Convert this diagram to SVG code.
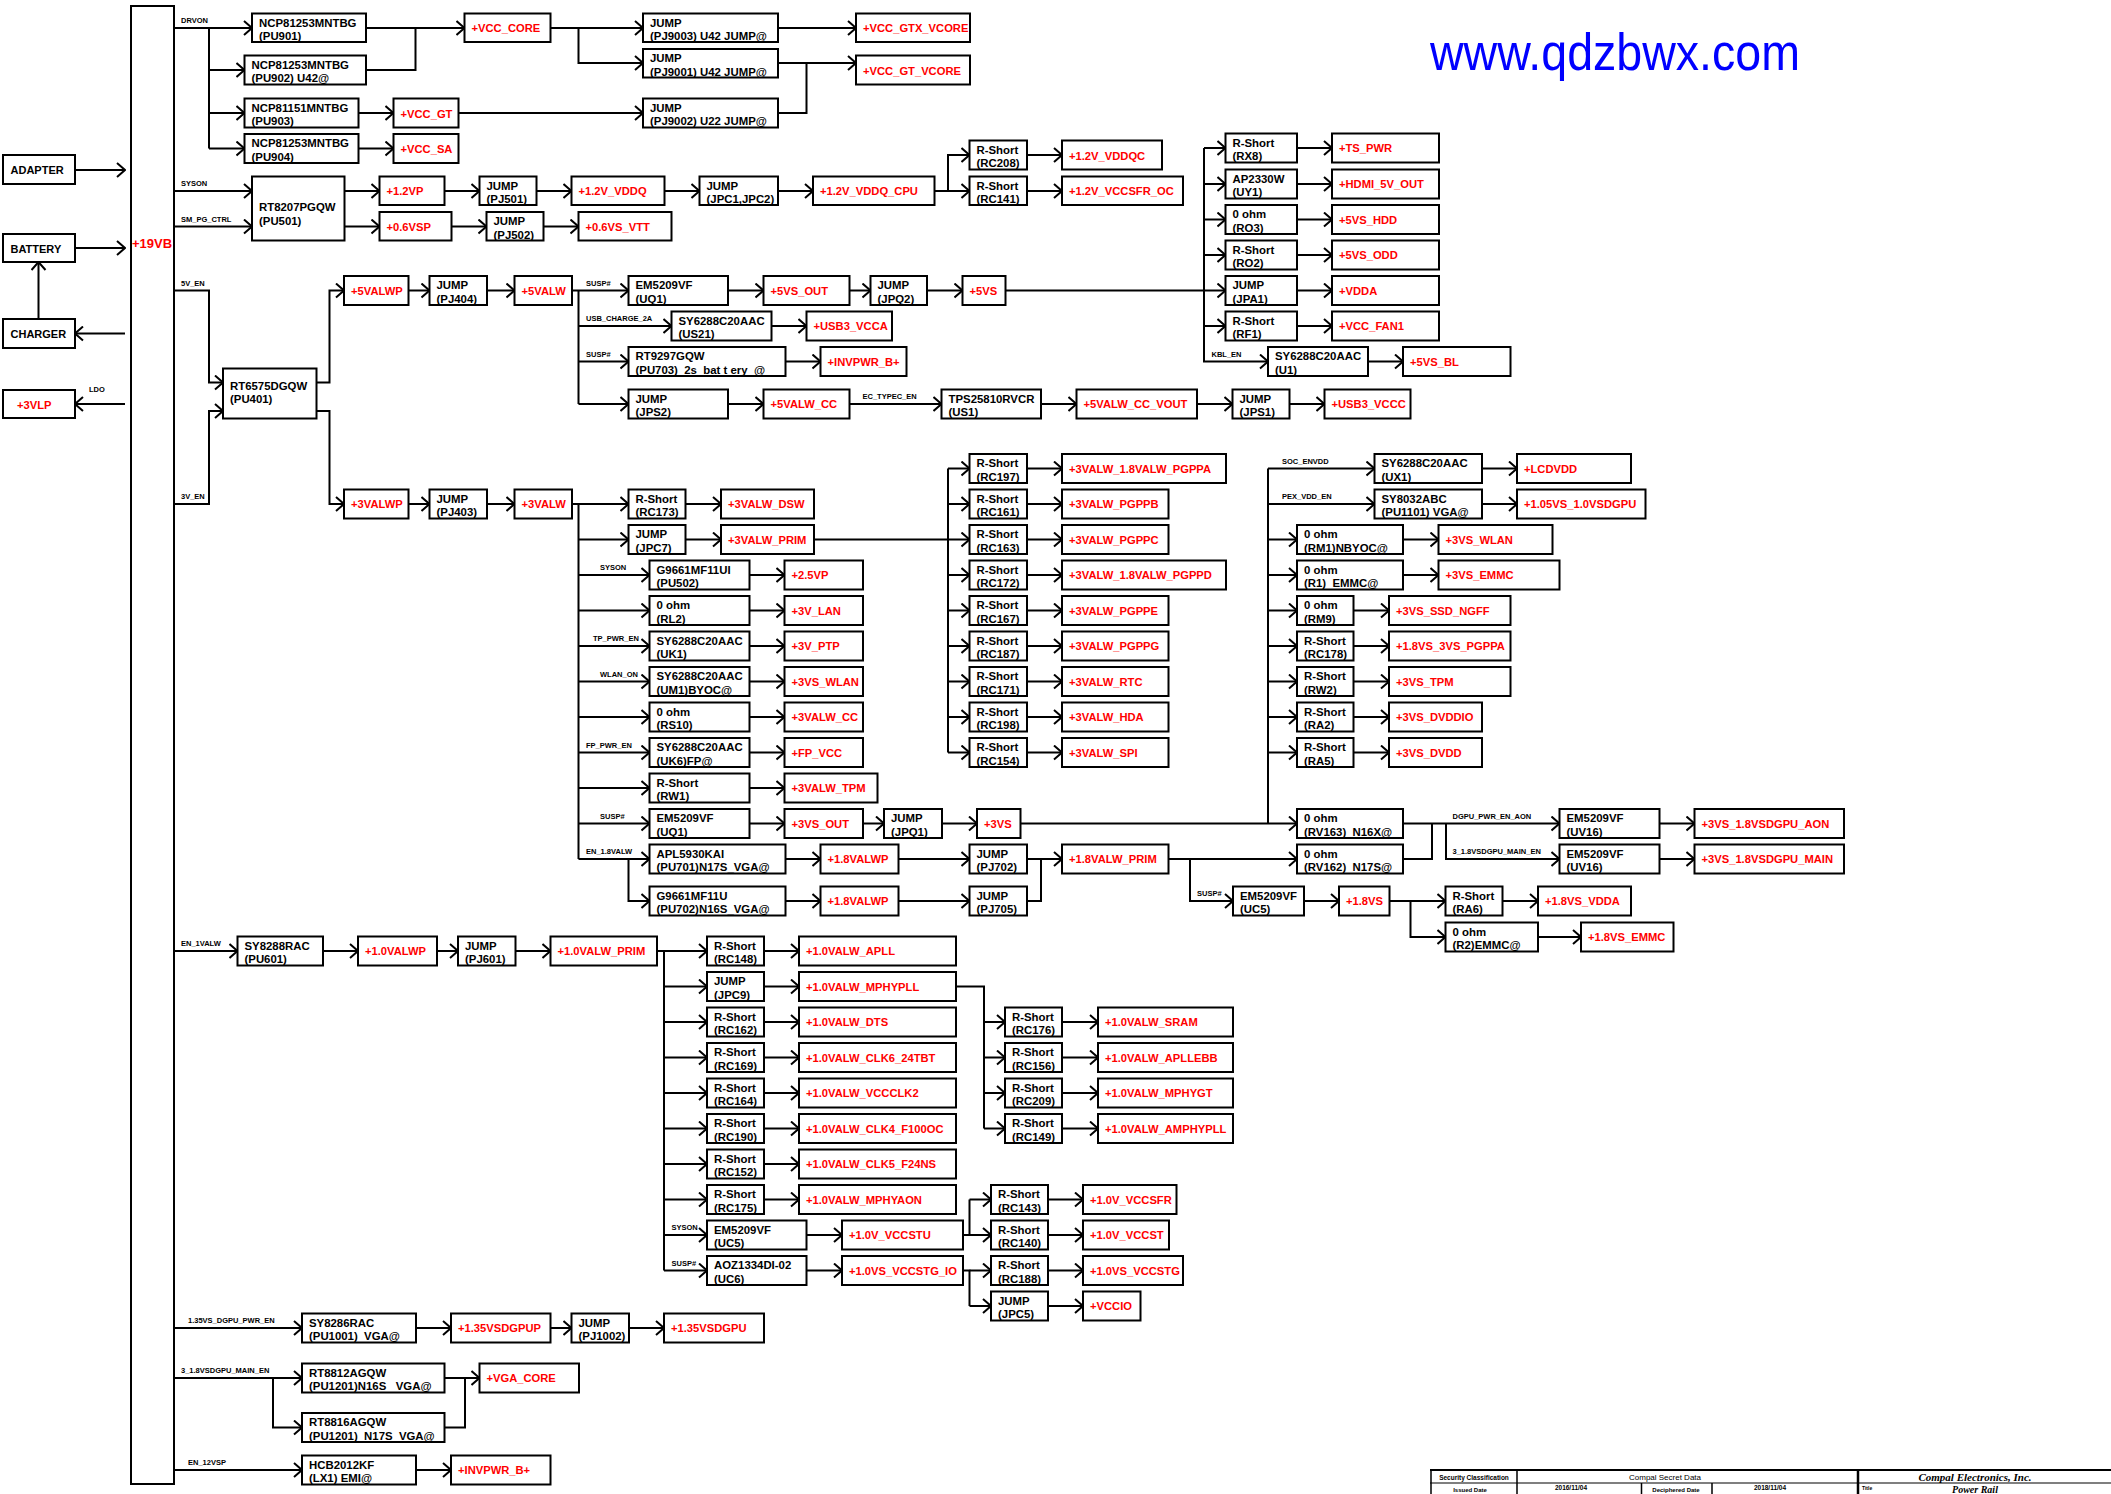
<svg xmlns="http://www.w3.org/2000/svg" width="2111" height="1494" viewBox="0 0 2111 1494">
<style>
.b{fill:#fff;stroke:#000;stroke-width:2}
.k{font-family:"Liberation Sans",Arial,sans-serif;font-weight:bold;font-size:11.4px;fill:#000;white-space:pre}
.r{font-family:"Liberation Sans",Arial,sans-serif;font-weight:bold;font-size:11.2px;fill:#f00;white-space:pre}
.l{font-family:"Liberation Sans",Arial,sans-serif;font-weight:bold;font-size:7.5px;fill:#000;white-space:pre}
.c path{fill:none;stroke:#000;stroke-width:2}
.c path.a{marker-end:url(#ar)}
.tb{fill:none;stroke:#000}
.tt{font-family:"Liberation Sans",Arial,sans-serif;fill:#000}
</style>
<defs>
<marker id="ar" viewBox="0 0 10 16" refX="9" refY="8" markerWidth="10" markerHeight="16" markerUnits="userSpaceOnUse" orient="auto"><path d="M1,1 L9,8 L1,15" fill="none" stroke="#000" stroke-width="2"/></marker>
</defs>
<rect width="2111" height="1494" fill="#fff"/>
<text x="1430" y="70" font-family="Liberation Sans,Arial,sans-serif" font-size="52" fill="#0000ff" textLength="370" lengthAdjust="spacingAndGlyphs">www.qdzbwx.com</text>

<g class="c" id="connectors">
<path class="a" d="M75,170H125"/><path class="a" d="M75,248H125"/><path class="a" d="M125,333.5H75"/><path class="a" d="M38.5,319V262"/><path class="a" d="M125,404H75"/>
<path class="a" d="M174,28H252"/><path d="M209,28V148.5"/><path class="a" d="M209,70H244.5"/><path class="a" d="M209,113H244.5"/><path class="a" d="M209,148.5H244.5"/>
<path class="a" d="M366,28H464.5"/><path d="M366,70H415.5V28"/><path class="a" d="M358.5,113H393.5"/><path class="a" d="M358.5,148.5H393.5"/>
<path class="a" d="M550.5,28H643"/><path class="a" d="M578.5,28V63H643"/><path class="a" d="M458.5,113H643"/>
<path class="a" d="M778,28H856"/><path class="a" d="M778,63H856"/><path d="M778,113H806.5V63"/>
<path class="a" d="M174,191H252"/><path class="a" d="M174,226.5H252"/><path class="a" d="M344.5,191H379.5"/><path class="a" d="M344.5,226.5H379.5"/>
<path class="a" d="M444.5,191H479.5"/><path class="a" d="M451.5,226.5H486.5"/><path class="a" d="M536.5,191H571.5"/><path class="a" d="M543.5,226.5H578.5"/>
<path class="a" d="M664.5,191H699.5"/><path class="a" d="M778,191H813"/><path class="a" d="M934.5,191H969.5"/><path class="a" d="M948,191V155H969.5"/>
<path class="a" d="M1027,155H1062"/><path class="a" d="M1027,191H1062"/>
<path class="a" d="M174,290.5H209V382.5H223"/><path class="a" d="M174,504H209V411H223"/>
<path class="a" d="M316.5,382.5H329.5V290.5H344"/><path class="a" d="M316.5,411H329.5V504H344"/>
<path class="a" d="M408.5,290.5H429.5"/><path class="a" d="M487,290.5H514.5"/><path class="a" d="M572,290.5H628.5"/><path d="M578.5,290.5V404"/>
<path class="a" d="M578.5,326H671.5"/><path class="a" d="M578.5,361.5H628.5"/><path class="a" d="M578.5,404H628.5"/>
<path class="a" d="M728,290.5H763.5"/><path class="a" d="M849.5,290.5H870.5"/><path class="a" d="M927,290.5H962.5"/><path class="a" d="M1005.5,290.5H1225.5"/>
<path class="a" d="M1204,148V361.5H1268"/><path class="a" d="M1204,148H1225.5"/><path class="a" d="M1204,184H1225.5"/><path class="a" d="M1204,219.5H1225.5"/><path class="a" d="M1204,255H1225.5"/><path class="a" d="M1204,326H1225.5"/>
<path class="a" d="M1297,148H1332"/><path class="a" d="M1297,184H1332"/><path class="a" d="M1297,219.5H1332"/><path class="a" d="M1297,255H1332"/><path class="a" d="M1297,290.5H1332"/><path class="a" d="M1297,326H1332"/>
<path class="a" d="M1368,361.5H1403"/><path class="a" d="M771.5,326H806.5"/><path class="a" d="M785.5,361.5H820.5"/>
<path class="a" d="M728,404H763.5"/><path class="a" d="M849.5,404H941.5"/><path class="a" d="M1041,404H1076.5"/><path class="a" d="M1197,404H1232.5"/><path class="a" d="M1289.5,404H1324.5"/>
<path class="a" d="M408.5,504H429.5"/><path class="a" d="M487,504H514.5"/><path class="a" d="M572,504H628.5"/><path d="M578.5,504V859"/>
<path class="a" d="M578.5,539.5H628.5"/><path class="a" d="M578.5,575H649.5"/><path class="a" d="M578.5,610.5H649.5"/><path class="a" d="M578.5,646H649.5"/><path class="a" d="M578.5,681.5H649.5"/><path class="a" d="M578.5,717H649.5"/><path class="a" d="M578.5,752.5H649.5"/><path class="a" d="M578.5,788H649.5"/><path class="a" d="M578.5,823.5H649.5"/><path class="a" d="M578.5,859H649.5"/>
<path class="a" d="M628.5,859V901H649.5"/>
<path class="a" d="M685.5,504H721"/><path class="a" d="M685.5,539.5H721"/>
<path class="a" d="M749.5,575H784.5"/><path class="a" d="M749.5,610.5H784.5"/><path class="a" d="M749.5,646H784.5"/><path class="a" d="M749.5,681.5H784.5"/><path class="a" d="M749.5,717H784.5"/><path class="a" d="M749.5,752.5H784.5"/><path class="a" d="M749.5,788H784.5"/><path class="a" d="M749.5,823.5H784.5"/>
<path class="a" d="M863,823.5H884"/><path class="a" d="M942,823.5H977"/><path class="a" d="M1020.5,823.5H1297"/>
<path class="a" d="M785.5,859H820.5"/><path class="a" d="M785.5,901H820.5"/><path class="a" d="M898.5,859H969.5"/><path class="a" d="M898.5,901H969.5"/>
<path class="a" d="M1027,859H1062"/><path d="M1027,901H1041V859"/>
<path class="a" d="M814,539.5H969.5"/><path d="M948,468.5V752.5"/>
<path class="a" d="M948,468.5H969.5"/><path class="a" d="M948,504H969.5"/><path class="a" d="M948,575H969.5"/><path class="a" d="M948,610.5H969.5"/><path class="a" d="M948,646H969.5"/><path class="a" d="M948,681.5H969.5"/><path class="a" d="M948,717H969.5"/><path class="a" d="M948,752.5H969.5"/>
<path class="a" d="M1027,468.5H1062"/><path class="a" d="M1027,504H1062"/><path class="a" d="M1027,539.5H1062"/><path class="a" d="M1027,575H1062"/><path class="a" d="M1027,610.5H1062"/><path class="a" d="M1027,646H1062"/><path class="a" d="M1027,681.5H1062"/><path class="a" d="M1027,717H1062"/><path class="a" d="M1027,752.5H1062"/>
<path d="M1268,468.5V823.5"/><path class="a" d="M1268,468.5H1374.5"/><path class="a" d="M1268,504H1374.5"/>
<path class="a" d="M1268,539.5H1297"/><path class="a" d="M1268,575H1297"/><path class="a" d="M1268,610.5H1297"/><path class="a" d="M1268,646H1297"/><path class="a" d="M1268,681.5H1297"/><path class="a" d="M1268,717H1297"/><path class="a" d="M1268,752.5H1297"/>
<path class="a" d="M1482,468.5H1517"/><path class="a" d="M1482,504H1517"/><path class="a" d="M1403,539.5H1438.5"/><path class="a" d="M1403,575H1438.5"/>
<path class="a" d="M1353.5,610.5H1389"/><path class="a" d="M1353.5,646H1389"/><path class="a" d="M1353.5,681.5H1389"/><path class="a" d="M1353.5,717H1389"/><path class="a" d="M1353.5,752.5H1389"/>
<path class="a" d="M1168.5,859H1297"/><path class="a" d="M1190,859V901H1233"/>
<path class="a" d="M1403,823.5H1559.5"/><path d="M1403,859H1432V823.5"/><path class="a" d="M1446,823.5V859H1559.5"/>
<path class="a" d="M1659.5,823.5H1694.5"/><path class="a" d="M1659.5,859H1694.5"/>
<path class="a" d="M1304,901H1339"/><path class="a" d="M1389.5,901H1445.5"/><path class="a" d="M1410.5,901V937H1445.5"/><path class="a" d="M1502.5,901H1538"/><path class="a" d="M1538,937H1581"/>
<path class="a" d="M174,951H237.5"/><path class="a" d="M323,951H358"/><path class="a" d="M437,951H458"/><path class="a" d="M515.5,951H550.5"/><path class="a" d="M657,951H707"/><path d="M664,951V1270.5"/>
<path class="a" d="M664,986.5H707"/><path class="a" d="M664,1022H707"/><path class="a" d="M664,1057.5H707"/><path class="a" d="M664,1093H707"/><path class="a" d="M664,1128.5H707"/><path class="a" d="M664,1164H707"/><path class="a" d="M664,1199.5H707"/><path class="a" d="M664,1235H707"/><path class="a" d="M664,1270.5H707"/>
<path class="a" d="M764,951H799"/><path class="a" d="M764,986.5H799"/><path class="a" d="M764,1022H799"/><path class="a" d="M764,1057.5H799"/><path class="a" d="M764,1093H799"/><path class="a" d="M764,1128.5H799"/><path class="a" d="M764,1164H799"/><path class="a" d="M764,1199.5H799"/>
<path class="a" d="M806.5,1235H842"/><path class="a" d="M806.5,1270.5H842"/>
<path d="M956,986.5H984V1128.5"/><path class="a" d="M984,1022H1005"/><path class="a" d="M984,1057.5H1005"/><path class="a" d="M984,1093H1005"/><path class="a" d="M984,1128.5H1005"/>
<path class="a" d="M1062,1022H1098"/><path class="a" d="M1062,1057.5H1098"/><path class="a" d="M1062,1093H1098"/><path class="a" d="M1062,1128.5H1098"/>
<path d="M963,1235H969.5V1199.5"/><path class="a" d="M969.5,1199.5H991"/><path class="a" d="M969.5,1235H991"/>
<path d="M963,1270.5H969.5V1306"/><path class="a" d="M969.5,1270.5H991"/><path class="a" d="M969.5,1306H991"/>
<path class="a" d="M1048,1199.5H1083"/><path class="a" d="M1048,1235H1083"/><path class="a" d="M1048,1270.5H1083"/><path class="a" d="M1048,1306H1083"/>
<path class="a" d="M174,1328H302"/><path class="a" d="M416,1328H451"/><path class="a" d="M550.5,1328H571.5"/><path class="a" d="M629,1328H664"/>
<path class="a" d="M174,1378H302"/><path class="a" d="M273,1378V1427.5H302"/><path class="a" d="M444.5,1378H479.5"/><path d="M444.5,1427.5H465V1378"/>
<path class="a" d="M174,1470H302"/><path class="a" d="M416,1470H451"/>
</g>

<g id="labels">
<text class="l" x="181" y="23">DRVON</text><text class="l" x="181" y="186">SYSON</text><text class="l" x="181" y="221.5">SM_PG_CTRL</text>
<text class="l" x="181" y="285.5">5V_EN</text><text class="l" x="181" y="499">3V_EN</text><text class="l" x="89" y="392">LDO</text>
<text class="l" x="586" y="285.5">SUSP#</text><text class="l" x="586" y="321">USB_CHARGE_2A</text><text class="l" x="586" y="356.5">SUSP#</text>
<text class="l" x="862.5" y="399">EC_TYPEC_EN</text><text class="l" x="1211.5" y="356.5">KBL_EN</text>
<text class="l" x="600" y="570">SYSON</text><text class="l" x="593" y="641">TP_PWR_EN</text><text class="l" x="600" y="676.5">WLAN_ON</text>
<text class="l" x="586" y="747.5">FP_PWR_EN</text><text class="l" x="600" y="818.5">SUSP#</text><text class="l" x="586" y="854">EN_1.8VALW</text>
<text class="l" x="1282" y="463.5">SOC_ENVDD</text><text class="l" x="1282" y="499">PEX_VDD_EN</text>
<text class="l" x="1452.5" y="818.5">DGPU_PWR_EN_AON</text><text class="l" x="1452.5" y="854">3_1.8VSDGPU_MAIN_EN</text>
<text class="l" x="1197" y="896">SUSP#</text><text class="l" x="181" y="946">EN_1VALW</text>
<text class="l" x="671.5" y="1230">SYSON</text><text class="l" x="671.5" y="1265.5">SUSP#</text>
<text class="l" x="188" y="1323">1.35VS_DGPU_PWR_EN</text><text class="l" x="181" y="1372.5">3_1.8VSDGPU_MAIN_EN</text><text class="l" x="188" y="1465">EN_12VSP</text>
</g>

<g id="bus19VB"><rect class="b" x="131" y="6" width="43" height="1478"/><text class="r" x="132" y="248" style="font-size:13px">+19VB</text></g>
<g id="ADAPTER"><rect class="b" x="3" y="155" width="72" height="29"/><text class="k" x="10.5" y="174" style="font-size:11px">ADAPTER</text></g>
<g id="BATTERY"><rect class="b" x="3" y="234" width="72" height="28"/><text class="k" x="10.5" y="252.5" style="font-size:11px">BATTERY</text></g>
<g id="CHARGER"><rect class="b" x="3" y="319" width="72" height="29"/><text class="k" x="10.5" y="338" style="font-size:11px">CHARGER</text></g>
<g id="P3VLP"><rect class="b" x="3" y="390" width="72" height="28"/><text class="r" x="17" y="408.5">+3VLP</text></g>

<g id="PU901"><rect class="b" x="252" y="13.5" width="114" height="28.5"/><text class="k" x="259" y="26.5">NCP81253MNTBG</text><text class="k" x="259" y="40">(PU901)</text></g>
<g id="PU902"><rect class="b" x="244.5" y="55.5" width="121.5" height="29"/><text class="k" x="251.5" y="68.5">NCP81253MNTBG</text><text class="k" x="251.5" y="82">(PU902) U42@</text></g>
<g id="PU903"><rect class="b" x="244.5" y="98.5" width="114" height="29"/><text class="k" x="251.5" y="111.5">NCP81151MNTBG</text><text class="k" x="251.5" y="125">(PU903)</text></g>
<g id="PU904"><rect class="b" x="244.5" y="134" width="114" height="29"/><text class="k" x="251.5" y="147">NCP81253MNTBG</text><text class="k" x="251.5" y="160.5">(PU904)</text></g>
<g id="VCC_CORE"><rect class="b" x="464.5" y="13.5" width="86" height="28.5"/><text class="r" x="471.5" y="32">+VCC_CORE</text></g>
<g id="VCC_GT"><rect class="b" x="393.5" y="98.5" width="65" height="29"/><text class="r" x="400.5" y="117.5">+VCC_GT</text></g>
<g id="VCC_SA"><rect class="b" x="393.5" y="134" width="65" height="29"/><text class="r" x="400.5" y="152.5">+VCC_SA</text></g>
<g id="PJ9003"><rect class="b" x="643" y="13.5" width="135" height="28.5"/><text class="k" x="650" y="26.5">JUMP</text><text class="k" x="650" y="40">(PJ9003) U42 JUMP@</text></g>
<g id="PJ9001"><rect class="b" x="643" y="49" width="135" height="28.5"/><text class="k" x="650" y="62">JUMP</text><text class="k" x="650" y="75.5">(PJ9001) U42 JUMP@</text></g>
<g id="PJ9002"><rect class="b" x="643" y="98.5" width="135" height="29"/><text class="k" x="650" y="111.5">JUMP</text><text class="k" x="650" y="125">(PJ9002) U22 JUMP@</text></g>
<g id="VCC_GTX_VCORE"><rect class="b" x="856" y="13.5" width="114" height="28.5"/><text class="r" x="863" y="32">+VCC_GTX_VCORE</text></g>
<g id="VCC_GT_VCORE"><rect class="b" x="856" y="55.5" width="114" height="29"/><text class="r" x="863" y="74.5">+VCC_GT_VCORE</text></g>

<g id="PU501"><rect class="b" x="252" y="176.5" width="92.5" height="64"/><text class="k" x="259" y="211">RT8207PGQW</text><text class="k" x="259" y="225">(PU501)</text></g>
<g id="P1_2VP"><rect class="b" x="379.5" y="176.5" width="65" height="28.5"/><text class="r" x="386.5" y="195">+1.2VP</text></g>
<g id="P0_6VSP"><rect class="b" x="379.5" y="212" width="72" height="28.5"/><text class="r" x="386.5" y="230.5">+0.6VSP</text></g>
<g id="PJ501"><rect class="b" x="479.5" y="176.5" width="57" height="28.5"/><text class="k" x="486.5" y="189.5">JUMP</text><text class="k" x="486.5" y="203">(PJ501)</text></g>
<g id="PJ502"><rect class="b" x="486.5" y="212" width="57" height="28.5"/><text class="k" x="493.5" y="225">JUMP</text><text class="k" x="493.5" y="238.5">(PJ502)</text></g>
<g id="P1_2V_VDDQ"><rect class="b" x="571.5" y="176.5" width="93" height="28.5"/><text class="r" x="578.5" y="195">+1.2V_VDDQ</text></g>
<g id="P0_6VS_VTT"><rect class="b" x="578.5" y="212" width="93" height="28.5"/><text class="r" x="585.5" y="230.5">+0.6VS_VTT</text></g>
<g id="JPC1"><rect class="b" x="699.5" y="176.5" width="78.5" height="28.5"/><text class="k" x="706.5" y="189.5">JUMP</text><text class="k" x="706.5" y="203">(JPC1,JPC2)</text></g>
<g id="VDDQ_CPU"><rect class="b" x="813" y="176.5" width="121.5" height="28.5"/><text class="r" x="820" y="195">+1.2V_VDDQ_CPU</text></g>
<g id="RC208"><rect class="b" x="969.5" y="140.5" width="57.5" height="29"/><text class="k" x="976.5" y="153.5">R-Short</text><text class="k" x="976.5" y="167">(RC208)</text></g>
<g id="RC141"><rect class="b" x="969.5" y="176.5" width="57.5" height="28.5"/><text class="k" x="976.5" y="189.5">R-Short</text><text class="k" x="976.5" y="203">(RC141)</text></g>
<g id="VDDQC"><rect class="b" x="1062" y="140.5" width="100" height="29"/><text class="r" x="1069" y="159.5">+1.2V_VDDQC</text></g>
<g id="VCCSFR_OC"><rect class="b" x="1062" y="176.5" width="121" height="28.5"/><text class="r" x="1069" y="195">+1.2V_VCCSFR_OC</text></g>

<g id="PU401"><rect class="b" x="223" y="368.5" width="93.5" height="50"/><text class="k" x="230" y="389.5">RT6575DGQW</text><text class="k" x="230" y="402.5">(PU401)</text></g>
<g id="P5VALWP"><rect class="b" x="344" y="276" width="64.5" height="29"/><text class="r" x="351" y="295">+5VALWP</text></g>
<g id="PJ404"><rect class="b" x="429.5" y="276" width="57.5" height="29"/><text class="k" x="436.5" y="289">JUMP</text><text class="k" x="436.5" y="302.5">(PJ404)</text></g>
<g id="P5VALW"><rect class="b" x="514.5" y="276" width="57.5" height="29"/><text class="r" x="521.5" y="295">+5VALW</text></g>
<g id="UQ1_5"><rect class="b" x="628.5" y="276" width="99.5" height="29"/><text class="k" x="635.5" y="289">EM5209VF</text><text class="k" x="635.5" y="302.5">(UQ1)</text></g>
<g id="P5VS_OUT"><rect class="b" x="763.5" y="276" width="86" height="29"/><text class="r" x="770.5" y="295">+5VS_OUT</text></g>
<g id="JPQ2"><rect class="b" x="870.5" y="276" width="56.5" height="29"/><text class="k" x="877.5" y="289">JUMP</text><text class="k" x="877.5" y="302.5">(JPQ2)</text></g>
<g id="P5VS"><rect class="b" x="962.5" y="276" width="43" height="29"/><text class="r" x="969.5" y="295">+5VS</text></g>
<g id="US21"><rect class="b" x="671.5" y="311.5" width="100" height="29"/><text class="k" x="678.5" y="324.5">SY6288C20AAC</text><text class="k" x="678.5" y="338">(US21)</text></g>
<g id="USB3_VCCA"><rect class="b" x="806.5" y="311.5" width="85.5" height="29"/><text class="r" x="813.5" y="330.3">+USB3_VCCA</text></g>
<g id="PU703"><rect class="b" x="628.5" y="347" width="157" height="29"/><text class="k" x="635.5" y="360">RT9297GQW</text><text class="k" x="635.5" y="373.5">(PU703)  2s  bat t ery  @</text></g>
<g id="INVPWR_1"><rect class="b" x="820.5" y="347" width="86" height="29"/><text class="r" x="827.5" y="365.8">+INVPWR_B+</text></g>
<g id="JPS2"><rect class="b" x="628.5" y="389.5" width="99.5" height="29"/><text class="k" x="635.5" y="402.5">JUMP</text><text class="k" x="635.5" y="416">(JPS2)</text></g>
<g id="P5VALW_CC"><rect class="b" x="763.5" y="389.5" width="86" height="29"/><text class="r" x="770.5" y="408.3">+5VALW_CC</text></g>
<g id="US1"><rect class="b" x="941.5" y="389.5" width="99.5" height="29"/><text class="k" x="948.5" y="402.5">TPS25810RVCR</text><text class="k" x="948.5" y="416">(US1)</text></g>
<g id="CC_VOUT"><rect class="b" x="1076.5" y="389.5" width="120.5" height="29"/><text class="r" x="1083.5" y="408.3">+5VALW_CC_VOUT</text></g>
<g id="JPS1"><rect class="b" x="1232.5" y="389.5" width="57" height="29"/><text class="k" x="1239.5" y="402.5">JUMP</text><text class="k" x="1239.5" y="416">(JPS1)</text></g>
<g id="USB3_VCCC"><rect class="b" x="1324.5" y="389.5" width="86" height="29"/><text class="r" x="1331.5" y="408.3">+USB3_VCCC</text></g>
<g id="RX8"><rect class="b" x="1225.5" y="133.5" width="71.5" height="29"/><text class="k" x="1232.5" y="146.5">R-Short</text><text class="k" x="1232.5" y="160">(RX8)</text></g>
<g id="UY1"><rect class="b" x="1225.5" y="169.5" width="71.5" height="29"/><text class="k" x="1232.5" y="182.5">AP2330W</text><text class="k" x="1232.5" y="196">(UY1)</text></g>
<g id="RO3"><rect class="b" x="1225.5" y="205" width="71.5" height="29"/><text class="k" x="1232.5" y="218">0 ohm</text><text class="k" x="1232.5" y="231.5">(RO3)</text></g>
<g id="RO2"><rect class="b" x="1225.5" y="240.5" width="71.5" height="29"/><text class="k" x="1232.5" y="253.5">R-Short</text><text class="k" x="1232.5" y="267">(RO2)</text></g>
<g id="JPA1"><rect class="b" x="1225.5" y="276" width="71.5" height="29"/><text class="k" x="1232.5" y="289">JUMP</text><text class="k" x="1232.5" y="302.5">(JPA1)</text></g>
<g id="RF1"><rect class="b" x="1225.5" y="311.5" width="71.5" height="29"/><text class="k" x="1232.5" y="324.5">R-Short</text><text class="k" x="1232.5" y="338">(RF1)</text></g>
<g id="TS_PWR"><rect class="b" x="1332" y="133.5" width="107" height="29"/><text class="r" x="1339" y="152.3">+TS_PWR</text></g>
<g id="HDMI_5V_OUT"><rect class="b" x="1332" y="169.5" width="107" height="29"/><text class="r" x="1339" y="188.3">+HDMI_5V_OUT</text></g>
<g id="P5VS_HDD"><rect class="b" x="1332" y="205" width="107" height="29"/><text class="r" x="1339" y="223.8">+5VS_HDD</text></g>
<g id="P5VS_ODD"><rect class="b" x="1332" y="240.5" width="107" height="29"/><text class="r" x="1339" y="259.3">+5VS_ODD</text></g>
<g id="VDDA"><rect class="b" x="1332" y="276" width="107" height="29"/><text class="r" x="1339" y="294.8">+VDDA</text></g>
<g id="VCC_FAN1"><rect class="b" x="1332" y="311.5" width="107" height="29"/><text class="r" x="1339" y="330.3">+VCC_FAN1</text></g>
<g id="U1"><rect class="b" x="1268" y="347" width="100" height="29"/><text class="k" x="1275" y="360">SY6288C20AAC</text><text class="k" x="1275" y="373.5">(U1)</text></g>
<g id="P5VS_BL"><rect class="b" x="1403" y="347" width="107.5" height="29"/><text class="r" x="1410" y="365.8">+5VS_BL</text></g>

<g id="P3VALWP"><rect class="b" x="344" y="489.5" width="64.5" height="29"/><text class="r" x="351" y="508.3">+3VALWP</text></g>
<g id="PJ403"><rect class="b" x="429.5" y="489.5" width="57.5" height="29"/><text class="k" x="436.5" y="502.5">JUMP</text><text class="k" x="436.5" y="516">(PJ403)</text></g>
<g id="P3VALW"><rect class="b" x="514.5" y="489.5" width="57.5" height="29"/><text class="r" x="521.5" y="508.3">+3VALW</text></g>
<g id="RC173"><rect class="b" x="628.5" y="489.5" width="57" height="29"/><text class="k" x="635.5" y="502.5">R-Short</text><text class="k" x="635.5" y="516">(RC173)</text></g>
<g id="P3VALW_DSW"><rect class="b" x="721" y="489.5" width="93" height="29"/><text class="r" x="728" y="508.3">+3VALW_DSW</text></g>
<g id="JPC7"><rect class="b" x="628.5" y="525" width="57" height="29"/><text class="k" x="635.5" y="538">JUMP</text><text class="k" x="635.5" y="551.5">(JPC7)</text></g>
<g id="P3VALW_PRIM"><rect class="b" x="721" y="525" width="93" height="29"/><text class="r" x="728" y="543.8">+3VALW_PRIM</text></g>
<g id="PU502"><rect class="b" x="649.5" y="560.5" width="100" height="29"/><text class="k" x="656.5" y="573.5">G9661MF11UI</text><text class="k" x="656.5" y="587">(PU502)</text></g>
<g id="P2_5VP"><rect class="b" x="784.5" y="560.5" width="78.5" height="29"/><text class="r" x="791.5" y="579.3">+2.5VP</text></g>
<g id="RL2"><rect class="b" x="649.5" y="596" width="100" height="29"/><text class="k" x="656.5" y="609">0 ohm</text><text class="k" x="656.5" y="622.5">(RL2)</text></g>
<g id="P3V_LAN"><rect class="b" x="784.5" y="596" width="78.5" height="29"/><text class="r" x="791.5" y="614.8">+3V_LAN</text></g>
<g id="UK1"><rect class="b" x="649.5" y="631.5" width="100" height="29"/><text class="k" x="656.5" y="644.5">SY6288C20AAC</text><text class="k" x="656.5" y="658">(UK1)</text></g>
<g id="P3V_PTP"><rect class="b" x="784.5" y="631.5" width="78.5" height="29"/><text class="r" x="791.5" y="650.3">+3V_PTP</text></g>
<g id="UM1"><rect class="b" x="649.5" y="667" width="100" height="29"/><text class="k" x="656.5" y="680">SY6288C20AAC</text><text class="k" x="656.5" y="693.5">(UM1)BYOC@</text></g>
<g id="P3VS_WLAN_1"><rect class="b" x="784.5" y="667" width="78.5" height="29"/><text class="r" x="791.5" y="685.8">+3VS_WLAN</text></g>
<g id="RS10"><rect class="b" x="649.5" y="702.5" width="100" height="29"/><text class="k" x="656.5" y="715.5">0 ohm</text><text class="k" x="656.5" y="729">(RS10)</text></g>
<g id="P3VALW_CC"><rect class="b" x="784.5" y="702.5" width="78.5" height="29"/><text class="r" x="791.5" y="721.3">+3VALW_CC</text></g>
<g id="UK6"><rect class="b" x="649.5" y="738" width="100" height="29"/><text class="k" x="656.5" y="751">SY6288C20AAC</text><text class="k" x="656.5" y="764.5">(UK6)FP@</text></g>
<g id="FP_VCC"><rect class="b" x="784.5" y="738" width="78.5" height="29"/><text class="r" x="791.5" y="756.8">+FP_VCC</text></g>
<g id="RW1"><rect class="b" x="649.5" y="773.5" width="100" height="29"/><text class="k" x="656.5" y="786.5">R-Short</text><text class="k" x="656.5" y="800">(RW1)</text></g>
<g id="P3VALW_TPM"><rect class="b" x="784.5" y="773.5" width="93" height="29"/><text class="r" x="791.5" y="792.3">+3VALW_TPM</text></g>
<g id="UQ1_3"><rect class="b" x="649.5" y="809" width="100" height="29"/><text class="k" x="656.5" y="822">EM5209VF</text><text class="k" x="656.5" y="835.5">(UQ1)</text></g>
<g id="P3VS_OUT"><rect class="b" x="784.5" y="809" width="78.5" height="29"/><text class="r" x="791.5" y="827.8">+3VS_OUT</text></g>
<g id="JPQ1"><rect class="b" x="884" y="809" width="58" height="29"/><text class="k" x="891" y="822">JUMP</text><text class="k" x="891" y="835.5">(JPQ1)</text></g>
<g id="P3VS"><rect class="b" x="977" y="809" width="43.5" height="29"/><text class="r" x="984" y="827.8">+3VS</text></g>
<g id="PU701"><rect class="b" x="649.5" y="844.5" width="136" height="29"/><text class="k" x="656.5" y="857.5">APL5930KAI</text><text class="k" x="656.5" y="871">(PU701)N17S_VGA@</text></g>
<g id="P1_8VALWP_1"><rect class="b" x="820.5" y="844.5" width="78" height="29"/><text class="r" x="827.5" y="863.3">+1.8VALWP</text></g>
<g id="PJ702"><rect class="b" x="969.5" y="844.5" width="57.5" height="29"/><text class="k" x="976.5" y="857.5">JUMP</text><text class="k" x="976.5" y="871">(PJ702)</text></g>
<g id="P1_8VALW_PRIM"><rect class="b" x="1062" y="844.5" width="106.5" height="29"/><text class="r" x="1069" y="863.3">+1.8VALW_PRIM</text></g>
<g id="PU702"><rect class="b" x="649.5" y="886.5" width="136" height="29"/><text class="k" x="656.5" y="899.5">G9661MF11U</text><text class="k" x="656.5" y="913">(PU702)N16S_VGA@</text></g>
<g id="P1_8VALWP_2"><rect class="b" x="820.5" y="886.5" width="78" height="29"/><text class="r" x="827.5" y="905.3">+1.8VALWP</text></g>
<g id="PJ705"><rect class="b" x="969.5" y="886.5" width="57.5" height="29"/><text class="k" x="976.5" y="899.5">JUMP</text><text class="k" x="976.5" y="913">(PJ705)</text></g>

<g id="RC197"><rect class="b" x="969.5" y="454" width="57.5" height="29"/><text class="k" x="976.5" y="467">R-Short</text><text class="k" x="976.5" y="480.5">(RC197)</text></g>
<g id="RC161"><rect class="b" x="969.5" y="489.5" width="57.5" height="29"/><text class="k" x="976.5" y="502.5">R-Short</text><text class="k" x="976.5" y="516">(RC161)</text></g>
<g id="RC163"><rect class="b" x="969.5" y="525" width="57.5" height="29"/><text class="k" x="976.5" y="538">R-Short</text><text class="k" x="976.5" y="551.5">(RC163)</text></g>
<g id="RC172"><rect class="b" x="969.5" y="560.5" width="57.5" height="29"/><text class="k" x="976.5" y="573.5">R-Short</text><text class="k" x="976.5" y="587">(RC172)</text></g>
<g id="RC167"><rect class="b" x="969.5" y="596" width="57.5" height="29"/><text class="k" x="976.5" y="609">R-Short</text><text class="k" x="976.5" y="622.5">(RC167)</text></g>
<g id="RC187"><rect class="b" x="969.5" y="631.5" width="57.5" height="29"/><text class="k" x="976.5" y="644.5">R-Short</text><text class="k" x="976.5" y="658">(RC187)</text></g>
<g id="RC171"><rect class="b" x="969.5" y="667" width="57.5" height="29"/><text class="k" x="976.5" y="680">R-Short</text><text class="k" x="976.5" y="693.5">(RC171)</text></g>
<g id="RC198"><rect class="b" x="969.5" y="702.5" width="57.5" height="29"/><text class="k" x="976.5" y="715.5">R-Short</text><text class="k" x="976.5" y="729">(RC198)</text></g>
<g id="RC154"><rect class="b" x="969.5" y="738" width="57.5" height="29"/><text class="k" x="976.5" y="751">R-Short</text><text class="k" x="976.5" y="764.5">(RC154)</text></g>
<g id="PGPPA"><rect class="b" x="1062" y="454" width="164" height="29"/><text class="r" x="1069" y="472.8">+3VALW_1.8VALW_PGPPA</text></g>
<g id="PGPPB"><rect class="b" x="1062" y="489.5" width="106.5" height="29"/><text class="r" x="1069" y="508.3">+3VALW_PGPPB</text></g>
<g id="PGPPC"><rect class="b" x="1062" y="525" width="106.5" height="29"/><text class="r" x="1069" y="543.8">+3VALW_PGPPC</text></g>
<g id="PGPPD"><rect class="b" x="1062" y="560.5" width="164" height="29"/><text class="r" x="1069" y="579.3">+3VALW_1.8VALW_PGPPD</text></g>
<g id="PGPPE"><rect class="b" x="1062" y="596" width="106.5" height="29"/><text class="r" x="1069" y="614.8">+3VALW_PGPPE</text></g>
<g id="PGPPG"><rect class="b" x="1062" y="631.5" width="106.5" height="29"/><text class="r" x="1069" y="650.3">+3VALW_PGPPG</text></g>
<g id="RTC"><rect class="b" x="1062" y="667" width="106.5" height="29"/><text class="r" x="1069" y="685.8">+3VALW_RTC</text></g>
<g id="HDA"><rect class="b" x="1062" y="702.5" width="106.5" height="29"/><text class="r" x="1069" y="721.3">+3VALW_HDA</text></g>
<g id="SPI"><rect class="b" x="1062" y="738" width="106.5" height="29"/><text class="r" x="1069" y="756.8">+3VALW_SPI</text></g>

<g id="UX1"><rect class="b" x="1374.5" y="454" width="107.5" height="29"/><text class="k" x="1381.5" y="467">SY6288C20AAC</text><text class="k" x="1381.5" y="480.5">(UX1)</text></g>
<g id="LCDVDD"><rect class="b" x="1517" y="454" width="114" height="29"/><text class="r" x="1524" y="472.8">+LCDVDD</text></g>
<g id="PU1101"><rect class="b" x="1374.5" y="489.5" width="107.5" height="29"/><text class="k" x="1381.5" y="502.5">SY8032ABC</text><text class="k" x="1381.5" y="516">(PU1101) VGA@</text></g>
<g id="P1_05VS"><rect class="b" x="1517" y="489.5" width="128.5" height="29"/><text class="r" x="1524" y="508.3">+1.05VS_1.0VSDGPU</text></g>
<g id="RM1"><rect class="b" x="1297" y="525" width="106" height="29"/><text class="k" x="1304" y="538">0 ohm</text><text class="k" x="1304" y="551.5">(RM1)NBYOC@</text></g>
<g id="P3VS_WLAN_2"><rect class="b" x="1438.5" y="525" width="114" height="29"/><text class="r" x="1445.5" y="543.8">+3VS_WLAN</text></g>
<g id="R1"><rect class="b" x="1297" y="560.5" width="106" height="29"/><text class="k" x="1304" y="573.5">0 ohm</text><text class="k" x="1304" y="587">(R1)  EMMC@</text></g>
<g id="P3VS_EMMC"><rect class="b" x="1438.5" y="560.5" width="121" height="29"/><text class="r" x="1445.5" y="579.3">+3VS_EMMC</text></g>
<g id="RM9"><rect class="b" x="1297" y="596" width="56.5" height="29"/><text class="k" x="1304" y="609">0 ohm</text><text class="k" x="1304" y="622.5">(RM9)</text></g>
<g id="SSD_NGFF"><rect class="b" x="1389" y="596" width="121.5" height="29"/><text class="r" x="1396" y="614.8">+3VS_SSD_NGFF</text></g>
<g id="RC178"><rect class="b" x="1297" y="631.5" width="56.5" height="29"/><text class="k" x="1304" y="644.5">R-Short</text><text class="k" x="1304" y="658">(RC178)</text></g>
<g id="VS_PGPPA"><rect class="b" x="1389" y="631.5" width="121.5" height="29"/><text class="r" x="1396" y="650.3">+1.8VS_3VS_PGPPA</text></g>
<g id="RW2"><rect class="b" x="1297" y="667" width="56.5" height="29"/><text class="k" x="1304" y="680">R-Short</text><text class="k" x="1304" y="693.5">(RW2)</text></g>
<g id="P3VS_TPM"><rect class="b" x="1389" y="667" width="121.5" height="29"/><text class="r" x="1396" y="685.8">+3VS_TPM</text></g>
<g id="RA2"><rect class="b" x="1297" y="702.5" width="56.5" height="29"/><text class="k" x="1304" y="715.5">R-Short</text><text class="k" x="1304" y="729">(RA2)</text></g>
<g id="DVDDIO"><rect class="b" x="1389" y="702.5" width="93" height="29"/><text class="r" x="1396" y="721.3">+3VS_DVDDIO</text></g>
<g id="RA5"><rect class="b" x="1297" y="738" width="56.5" height="29"/><text class="k" x="1304" y="751">R-Short</text><text class="k" x="1304" y="764.5">(RA5)</text></g>
<g id="DVDD"><rect class="b" x="1389" y="738" width="93" height="29"/><text class="r" x="1396" y="756.8">+3VS_DVDD</text></g>
<g id="RV163"><rect class="b" x="1297" y="809" width="106" height="29"/><text class="k" x="1304" y="822">0 ohm</text><text class="k" x="1304" y="835.5">(RV163)  N16X@</text></g>
<g id="RV162"><rect class="b" x="1297" y="844.5" width="106" height="29"/><text class="k" x="1304" y="857.5">0 ohm</text><text class="k" x="1304" y="871">(RV162)  N17S@</text></g>
<g id="UV16_1"><rect class="b" x="1559.5" y="809" width="100" height="29"/><text class="k" x="1566.5" y="822">EM5209VF</text><text class="k" x="1566.5" y="835.5">(UV16)</text></g>
<g id="UV16_2"><rect class="b" x="1559.5" y="844.5" width="100" height="29"/><text class="k" x="1566.5" y="857.5">EM5209VF</text><text class="k" x="1566.5" y="871">(UV16)</text></g>
<g id="AON"><rect class="b" x="1694.5" y="809" width="149.5" height="29"/><text class="r" x="1701.5" y="827.8">+3VS_1.8VSDGPU_AON</text></g>
<g id="MAIN"><rect class="b" x="1694.5" y="844.5" width="149.5" height="29"/><text class="r" x="1701.5" y="863.3">+3VS_1.8VSDGPU_MAIN</text></g>
<g id="UC5_18"><rect class="b" x="1233" y="886.5" width="71" height="29"/><text class="k" x="1240" y="899.5">EM5209VF</text><text class="k" x="1240" y="913">(UC5)</text></g>
<g id="P1_8VS"><rect class="b" x="1339" y="886.5" width="50.5" height="29"/><text class="r" x="1346" y="905.3">+1.8VS</text></g>
<g id="RA6"><rect class="b" x="1445.5" y="886.5" width="57" height="29"/><text class="k" x="1452.5" y="899.5">R-Short</text><text class="k" x="1452.5" y="913">(RA6)</text></g>
<g id="VS_VDDA"><rect class="b" x="1538" y="886.5" width="93" height="29"/><text class="r" x="1545" y="905.3">+1.8VS_VDDA</text></g>
<g id="R2"><rect class="b" x="1445.5" y="922.5" width="92.5" height="29"/><text class="k" x="1452.5" y="935.5">0 ohm</text><text class="k" x="1452.5" y="949">(R2)EMMC@</text></g>
<g id="VS_EMMC"><rect class="b" x="1581" y="922.5" width="92.5" height="29"/><text class="r" x="1588" y="941.3">+1.8VS_EMMC</text></g>

<g id="PU601"><rect class="b" x="237.5" y="936.5" width="85.5" height="29"/><text class="k" x="244.5" y="949.5">SY8288RAC</text><text class="k" x="244.5" y="963">(PU601)</text></g>
<g id="P1_0VALWP"><rect class="b" x="358" y="936.5" width="79" height="29"/><text class="r" x="365" y="955.3">+1.0VALWP</text></g>
<g id="PJ601"><rect class="b" x="458" y="936.5" width="57.5" height="29"/><text class="k" x="465" y="949.5">JUMP</text><text class="k" x="465" y="963">(PJ601)</text></g>
<g id="P1_0VALW_PRIM"><rect class="b" x="550.5" y="936.5" width="106.5" height="29"/><text class="r" x="557.5" y="955.3">+1.0VALW_PRIM</text></g>
<g id="RC148"><rect class="b" x="707" y="936.5" width="57" height="29"/><text class="k" x="714" y="949.5">R-Short</text><text class="k" x="714" y="963">(RC148)</text></g>
<g id="APLL"><rect class="b" x="799" y="936.5" width="157" height="29"/><text class="r" x="806" y="955.3">+1.0VALW_APLL</text></g>
<g id="JPC9"><rect class="b" x="707" y="972" width="57" height="29"/><text class="k" x="714" y="985">JUMP</text><text class="k" x="714" y="998.5">(JPC9)</text></g>
<g id="MPHYPLL"><rect class="b" x="799" y="972" width="157" height="29"/><text class="r" x="806" y="990.8">+1.0VALW_MPHYPLL</text></g>
<g id="RC162"><rect class="b" x="707" y="1007.5" width="57" height="29"/><text class="k" x="714" y="1020.5">R-Short</text><text class="k" x="714" y="1034">(RC162)</text></g>
<g id="DTS"><rect class="b" x="799" y="1007.5" width="157" height="29"/><text class="r" x="806" y="1026.3">+1.0VALW_DTS</text></g>
<g id="RC169"><rect class="b" x="707" y="1043" width="57" height="29"/><text class="k" x="714" y="1056">R-Short</text><text class="k" x="714" y="1069.5">(RC169)</text></g>
<g id="CLK6"><rect class="b" x="799" y="1043" width="157" height="29"/><text class="r" x="806" y="1061.8">+1.0VALW_CLK6_24TBT</text></g>
<g id="RC164"><rect class="b" x="707" y="1078.5" width="57" height="29"/><text class="k" x="714" y="1091.5">R-Short</text><text class="k" x="714" y="1105">(RC164)</text></g>
<g id="VCCCLK2"><rect class="b" x="799" y="1078.5" width="157" height="29"/><text class="r" x="806" y="1097.3">+1.0VALW_VCCCLK2</text></g>
<g id="RC190"><rect class="b" x="707" y="1114" width="57" height="29"/><text class="k" x="714" y="1127">R-Short</text><text class="k" x="714" y="1140.5">(RC190)</text></g>
<g id="CLK4"><rect class="b" x="799" y="1114" width="157" height="29"/><text class="r" x="806" y="1132.8">+1.0VALW_CLK4_F100OC</text></g>
<g id="RC152"><rect class="b" x="707" y="1149.5" width="57" height="29"/><text class="k" x="714" y="1162.5">R-Short</text><text class="k" x="714" y="1176">(RC152)</text></g>
<g id="CLK5"><rect class="b" x="799" y="1149.5" width="157" height="29"/><text class="r" x="806" y="1168.3">+1.0VALW_CLK5_F24NS</text></g>
<g id="RC175"><rect class="b" x="707" y="1185" width="57" height="29"/><text class="k" x="714" y="1198">R-Short</text><text class="k" x="714" y="1211.5">(RC175)</text></g>
<g id="MPHYAON"><rect class="b" x="799" y="1185" width="157" height="29"/><text class="r" x="806" y="1203.8">+1.0VALW_MPHYAON</text></g>
<g id="UC5_10"><rect class="b" x="707" y="1220.5" width="99.5" height="29"/><text class="k" x="714" y="1233.5">EM5209VF</text><text class="k" x="714" y="1247">(UC5)</text></g>
<g id="VCCSTU"><rect class="b" x="842" y="1220.5" width="121" height="29"/><text class="r" x="849" y="1239.3">+1.0V_VCCSTU</text></g>
<g id="UC6"><rect class="b" x="707" y="1256" width="99.5" height="29"/><text class="k" x="714" y="1269">AOZ1334DI-02</text><text class="k" x="714" y="1282.5">(UC6)</text></g>
<g id="VCCSTG_IO"><rect class="b" x="842" y="1256" width="121" height="29"/><text class="r" x="849" y="1274.8">+1.0VS_VCCSTG_IO</text></g>
<g id="RC176"><rect class="b" x="1005" y="1007.5" width="57" height="29"/><text class="k" x="1012" y="1020.5">R-Short</text><text class="k" x="1012" y="1034">(RC176)</text></g>
<g id="SRAM"><rect class="b" x="1098" y="1007.5" width="135" height="29"/><text class="r" x="1105" y="1026.3">+1.0VALW_SRAM</text></g>
<g id="RC156"><rect class="b" x="1005" y="1043" width="57" height="29"/><text class="k" x="1012" y="1056">R-Short</text><text class="k" x="1012" y="1069.5">(RC156)</text></g>
<g id="APLLEBB"><rect class="b" x="1098" y="1043" width="135" height="29"/><text class="r" x="1105" y="1061.8">+1.0VALW_APLLEBB</text></g>
<g id="RC209"><rect class="b" x="1005" y="1078.5" width="57" height="29"/><text class="k" x="1012" y="1091.5">R-Short</text><text class="k" x="1012" y="1105">(RC209)</text></g>
<g id="MPHYGT"><rect class="b" x="1098" y="1078.5" width="135" height="29"/><text class="r" x="1105" y="1097.3">+1.0VALW_MPHYGT</text></g>
<g id="RC149"><rect class="b" x="1005" y="1114" width="57" height="29"/><text class="k" x="1012" y="1127">R-Short</text><text class="k" x="1012" y="1140.5">(RC149)</text></g>
<g id="AMPHYPLL"><rect class="b" x="1098" y="1114" width="135" height="29"/><text class="r" x="1105" y="1132.8">+1.0VALW_AMPHYPLL</text></g>
<g id="RC143"><rect class="b" x="991" y="1185" width="57" height="29"/><text class="k" x="998" y="1198">R-Short</text><text class="k" x="998" y="1211.5">(RC143)</text></g>
<g id="VCCSFR"><rect class="b" x="1083" y="1185" width="93.5" height="29"/><text class="r" x="1090" y="1203.8">+1.0V_VCCSFR</text></g>
<g id="RC140"><rect class="b" x="991" y="1220.5" width="57" height="29"/><text class="k" x="998" y="1233.5">R-Short</text><text class="k" x="998" y="1247">(RC140)</text></g>
<g id="VCCST"><rect class="b" x="1083" y="1220.5" width="86" height="29"/><text class="r" x="1090" y="1239.3">+1.0V_VCCST</text></g>
<g id="RC188"><rect class="b" x="991" y="1256" width="57" height="29"/><text class="k" x="998" y="1269">R-Short</text><text class="k" x="998" y="1282.5">(RC188)</text></g>
<g id="VCCSTG"><rect class="b" x="1083" y="1256" width="100" height="29"/><text class="r" x="1090" y="1274.8">+1.0VS_VCCSTG</text></g>
<g id="JPC5"><rect class="b" x="991" y="1291.5" width="57" height="29"/><text class="k" x="998" y="1304.5">JUMP</text><text class="k" x="998" y="1318">(JPC5)</text></g>
<g id="VCCIO"><rect class="b" x="1083" y="1291.5" width="57.5" height="29"/><text class="r" x="1090" y="1310.3">+VCCIO</text></g>

<g id="PU1001"><rect class="b" x="302" y="1313.5" width="114" height="29"/><text class="k" x="309" y="1326.5">SY8286RAC</text><text class="k" x="309" y="1340">(PU1001)  VGA@</text></g>
<g id="P1_35VSDGPUP"><rect class="b" x="451" y="1313.5" width="99.5" height="29"/><text class="r" x="458" y="1332.3">+1.35VSDGPUP</text></g>
<g id="PJ1002"><rect class="b" x="571.5" y="1313.5" width="57.5" height="29"/><text class="k" x="578.5" y="1326.5">JUMP</text><text class="k" x="578.5" y="1340">(PJ1002)</text></g>
<g id="P1_35VSDGPU"><rect class="b" x="664" y="1313.5" width="100" height="29"/><text class="r" x="671" y="1332.3">+1.35VSDGPU</text></g>
<g id="PU1201_1"><rect class="b" x="302" y="1363.5" width="142.5" height="29"/><text class="k" x="309" y="1376.5">RT8812AGQW</text><text class="k" x="309" y="1390">(PU1201)N16S   VGA@</text></g>
<g id="PU1201_2"><rect class="b" x="302" y="1413" width="142.5" height="29"/><text class="k" x="309" y="1426">RT8816AGQW</text><text class="k" x="309" y="1439.5">(PU1201)  N17S_VGA@</text></g>
<g id="VGA_CORE"><rect class="b" x="479.5" y="1363.5" width="99.5" height="29"/><text class="r" x="486.5" y="1382.3">+VGA_CORE</text></g>
<g id="LX1"><rect class="b" x="302" y="1455.5" width="114" height="29"/><text class="k" x="309" y="1468.5">HCB2012KF</text><text class="k" x="309" y="1482">(LX1) EMI@</text></g>
<g id="INVPWR_2"><rect class="b" x="451" y="1455.5" width="99.5" height="29"/><text class="r" x="458" y="1474.3">+INVPWR_B+</text></g>

<g id="titleblock">
<path class="tb" d="M1430,1470H2111" stroke-width="2"/>
<path class="tb" d="M1430,1483H2111" stroke-width="1.2"/>
<path class="tb" d="M1431,1470V1494M1517,1470V1494M1641.5,1483V1494M1712,1483V1494" stroke-width="1.5"/>
<path class="tb" d="M1858,1470V1494" stroke-width="2.5"/>
<text class="tt" x="1474" y="1479.5" font-size="6.5" font-weight="bold" text-anchor="middle">Security Classification</text>
<text class="tt" x="1665" y="1480" font-size="8" text-anchor="middle">Compal Secret Data</text>
<text class="tt" x="1975" y="1481" font-size="11" font-weight="bold" font-style="italic" text-anchor="middle" style="font-family:'Liberation Serif',serif">Compal Electronics, Inc.</text>
<text class="tt" x="1470" y="1491.5" font-size="6" font-weight="bold" text-anchor="middle">Issued Date</text>
<text class="tt" x="1571" y="1489.5" font-size="6.5" font-weight="bold" text-anchor="middle">2016/11/04</text>
<text class="tt" x="1676" y="1491.5" font-size="6" font-weight="bold" text-anchor="middle">Deciphered Date</text>
<text class="tt" x="1770" y="1489.5" font-size="6.5" font-weight="bold" text-anchor="middle">2018/11/04</text>
<text class="tt" x="1862" y="1490" font-size="5" font-weight="bold">Title</text>
<text class="tt" x="1975" y="1492.5" font-size="10" font-weight="bold" font-style="italic" text-anchor="middle" style="font-family:'Liberation Serif',serif">Power Rail</text>
</g>
</svg>
